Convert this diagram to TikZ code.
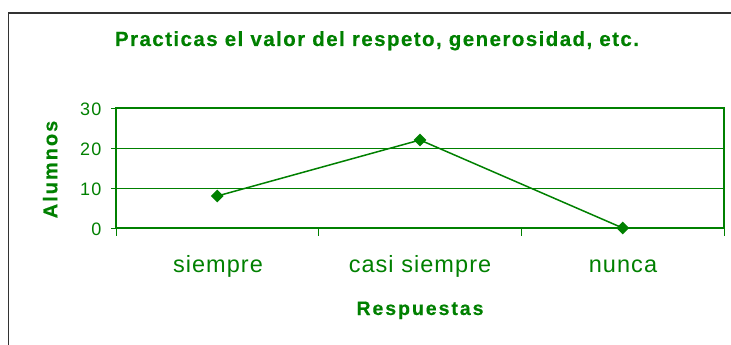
\documentclass[tikz,border=0pt]{standalone}
\usepackage{fontspec}
\setmainfont{Liberation Sans}
\newfontfamily\titlefont[LetterSpace=7,BoldFeatures={FakeBold=0.4}]{Liberation Sans}
\newfontfamily\axisfont[LetterSpace=10,BoldFeatures={FakeBold=0.4}]{Liberation Sans}
\newfontfamily\catfont[LetterSpace=4.5]{Liberation Sans}
\newfontfamily\numfont[LetterSpace=7]{Liberation Sans}
\definecolor{grn}{RGB}{0,128,0}
\tikzset{
  lbl/.style={text=grn, inner sep=0pt, outer sep=0pt},
  grid line/.style={draw=grn, line width=1pt},
  frame line/.style={draw=grn, line width=1.5pt},
  data line/.style={draw=grn, line width=1.5pt},
  tick line/.style={draw=grn, line width=1pt},
  marker/.style={diamond, fill=grn, inner sep=0pt, minimum width=13pt, minimum height=13pt},
}
\usetikzlibrary{shapes.geometric}
\begin{document}
\begin{tikzpicture}[x=1pt,y=-1pt]
\useasboundingbox (0,0) rectangle (731,345);
\begin{scope}
\clip (0,0) rectangle (731,345);
\draw[line width=1.4pt, draw=black!80] (8.5,346) -- (8.5,13) -- (732,13);
\end{scope}

% grid
\draw[grid line] (116,148) -- (724,148);
\draw[grid line] (116,188) -- (724,188);
% plot frame
\draw[frame line] (116,228) -- (116,108) -- (724,108) -- (724,228) -- cycle;
% y ticks
\foreach \yy in {108,148,188,228} \draw[tick line] (111,\yy) -- (116,\yy);
% x ticks
\foreach \xx in {116,318.67,521.33,724} \draw[tick line] (\xx,228) -- (\xx,236);

% data
\node[marker] (p1) at (217.3,196) {};
\node[marker] (p2) at (420,140) {};
\node[marker] (p3) at (622.7,228) {};
\draw[data line] (p1.center) -- (p2.center) -- (p3.center);

% y labels
\node[lbl, anchor=base east, font=\numfont\fontsize{18}{18}\selectfont] (y30) at (101.5,115) {30};
\node[lbl, anchor=base east, font=\numfont\fontsize{18}{18}\selectfont] (y20) at (101.5,155) {20};
\node[lbl, anchor=base east, font=\numfont\fontsize{18}{18}\selectfont] (y10) at (101.5,195) {10};
\node[lbl, anchor=base east, font=\numfont\fontsize{18}{18}\selectfont] (y0) at (101.5,235) {0};

% category labels
\node[lbl, anchor=base, font=\catfont\fontsize{23.5}{24}\selectfont] (c1) at (218,272) {siempre};
\node[lbl, anchor=base, font=\catfont\fontsize{23.5}{24}\selectfont] (c2) at (420,272) {casi siempre};
\node[lbl, anchor=base, font=\catfont\fontsize{23.5}{24}\selectfont] (c3) at (623,272) {nunca};

% titles
\node[lbl, anchor=base, font=\titlefont\bfseries\fontsize{20.5}{21}\selectfont] (title) at (377,46) {Practicas el valor del respeto, generosidad, etc.};
\node[lbl, anchor=base, font=\axisfont\bfseries\fontsize{19.5}{20}\selectfont] (xt) at (420,315) {Respuestas};
\node[lbl, anchor=base, rotate=90, font=\axisfont\bfseries\fontsize{20}{20}\selectfont] (yt) at (57.3,169.5) {Alumnos};
\end{tikzpicture}
\end{document}
